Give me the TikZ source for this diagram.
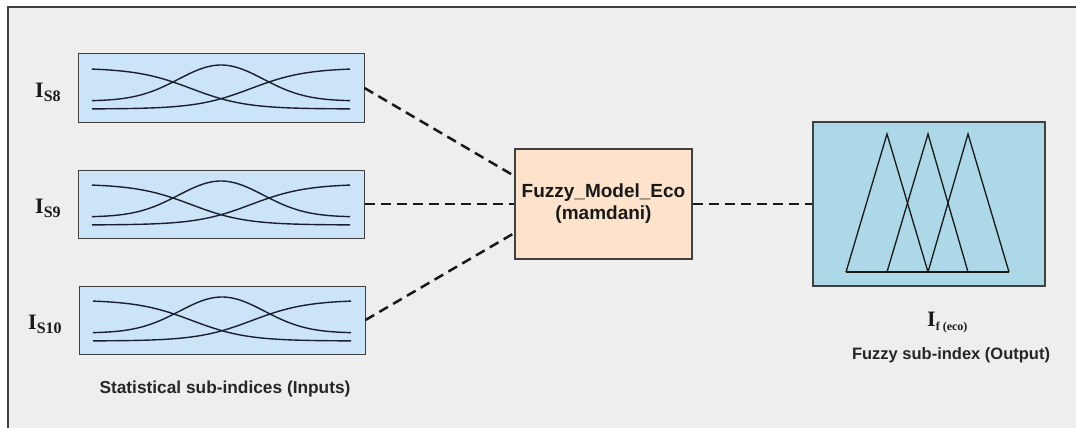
\documentclass[tikz,border=0pt]{standalone}
\usepackage{fontspec}
\setmainfont{Liberation Serif}
\newfontfamily\arialf{Liberation Sans}
\definecolor{bgc}{HTML}{EEEEEE}
\definecolor{inblue}{HTML}{CCE4F8}
\definecolor{outblue}{HTML}{ADD8E8}
\definecolor{peach}{HTML}{FDE3CB}
\definecolor{edgec}{HTML}{404040}
\definecolor{curvec}{HTML}{1A2030}
\tikzset{
  inbox/.style={draw=edgec, line width=1pt, fill=inblue, minimum width=286pt, minimum height=68pt, inner sep=0pt},
  ctrbox/.style={draw=edgec, line width=1.2pt, fill=peach, minimum width=177pt, minimum height=110pt, inner sep=0pt, align=center, font=\arialf\bfseries\fontsize{19}{22}\selectfont, text=black!90},
  outbox/.style={draw=edgec, line width=1.2pt, fill=outblue, minimum width=232pt, minimum height=164pt, inner sep=0pt},
  dline/.style={line width=2.5pt, dash pattern=on 10pt off 6pt, black!90},
  mf/.style={line width=1.4pt, curvec},
  tri/.style={line width=1.3pt, black!90, line join=miter},
  caption/.style={font=\arialf\bfseries\fontsize{16.5}{20}\selectfont, text=black!85},
  ilabel/.style={anchor=base west, inner sep=0pt, text=black!90},
}
\newcommand{\mfcurves}[2]{%
  \begin{scope}[shift={(#1,#2)}]
    \draw[mf] plot[domain=-129:129, samples=80, smooth] (\x, {-20 + 41/(1+exp(-0.0364*(\x+30)))});
    \draw[mf] plot[domain=-129:129, samples=80, smooth] (\x, {-20 + 41/(1+exp(0.0364*(\x-30)))});
    \draw[mf] plot[domain=-129:129, samples=80, smooth] (\x, {13 - 36*exp(-(\x/42.5)*(\x/42.5)/2)});
  \end{scope}}
\newcommand{\ilab}[2]{{\fontsize{22}{22}\selectfont\bfseries I}\raisebox{-4.5pt}{\fontsize{#2}{#2}\selectfont\bfseries #1}}
\begin{document}
\begin{tikzpicture}[x=1pt, y=-1pt]
  \useasboundingbox (0,0) rectangle (1076,428);
  \fill[white] (0,0) rectangle (1076,428);
  \fill[bgc] (8,7) rectangle (1076,428);
  \draw[edgec, line width=1.5pt] (8,428) -- (8,7) -- (1076,7);

  % input boxes
  \node[inbox] (in1) at (221,88) {};
  \node[inbox] (in2) at (221,204) {};
  \node[inbox] (in3) at (222,320) {};
  \mfcurves{221}{88}
  \mfcurves{221}{204}
  \mfcurves{222}{320}

  % labels
  \node[ilabel] (l8) at (35,97) {\ilab{S8}{16}};
  \node[ilabel] (l9) at (35,213) {\ilab{S9}{16}};
  \node[ilabel] (l10) at (28,329) {\ilab{S10}{16}};

  % centre box
  \node[ctrbox] (ctr) at (603.5,204) {Fuzzy\_Model\_Eco\\(mamdani)};

  % output box
  \node[outbox] (out) at (929,204) {};
  \draw[tri] (846,272) -- (887,134) -- (928,272);
  \draw[tri] (887,272) -- (928,134) -- (968,272);
  \draw[tri] (928,272) -- (968,134) -- (1009,272);
  \draw[tri] (846,272) -- (1009,272);

  % connectors
  \draw[dline] (in1.east) -- ([yshift=28pt]ctr.west);
  \draw[dline] (in2.east) -- (ctr.west);
  \draw[dline] (in3.east) -- ([yshift=-29pt]ctr.west);
  \draw[dline] (ctr.east) -- (out.west);

  % captions
  \node[ilabel] (lf) at (927,326) {{\fontsize{22}{22}\selectfont\bfseries I}\raisebox{-4pt}{\fontsize{12}{12}\selectfont\bfseries f (eco)}};
  \node[caption] (capout) at (951,355) {Fuzzy sub-index (Output)};
  \node[caption, font=\arialf\bfseries\fontsize{17.3}{20}\selectfont] (capin) at (225,389) {Statistical sub-indices (Inputs)};
\end{tikzpicture}
\end{document}
